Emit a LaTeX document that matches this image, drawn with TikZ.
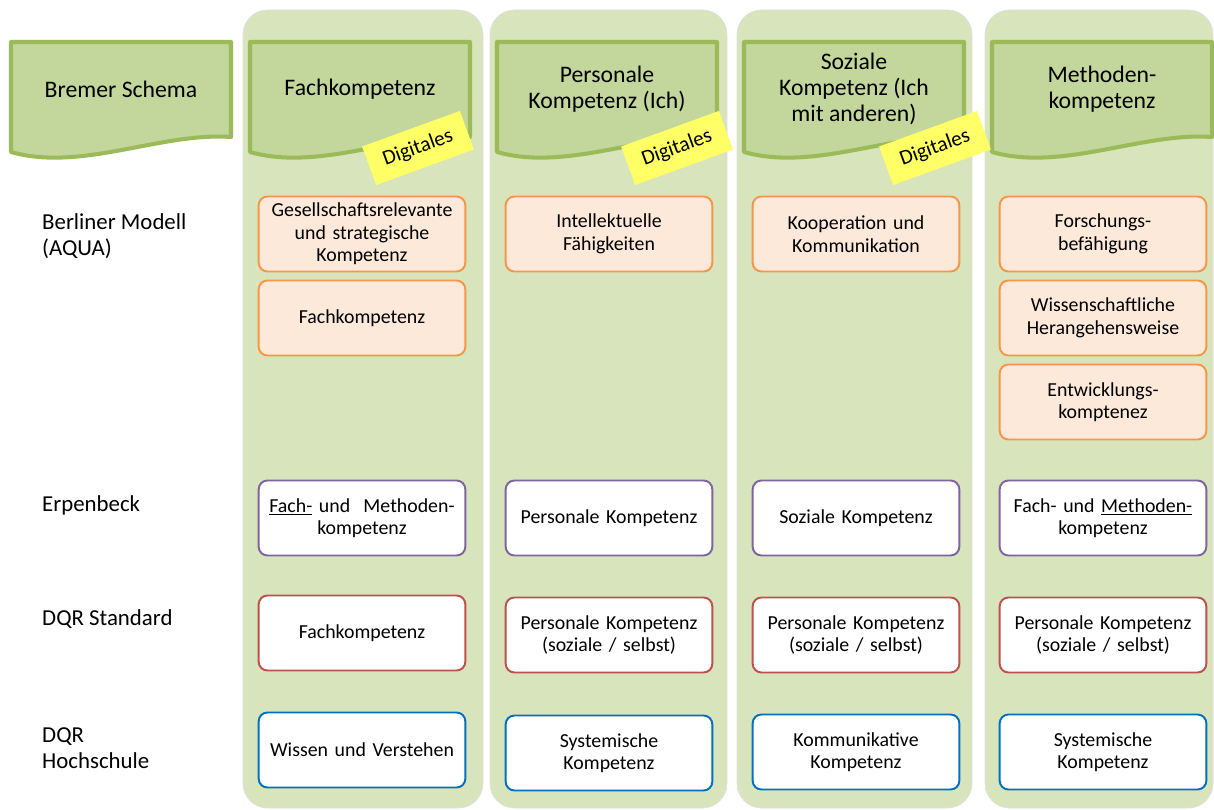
\documentclass[tikz,border=0pt]{standalone}
\usepackage{fontspec}
\setmainfont{Carlito}
\definecolor{colbg}{RGB}{216,228,188}
\definecolor{headfill}{RGB}{195,214,155}
\definecolor{headline}{RGB}{155,187,89}
\definecolor{aquafill}{RGB}{253,233,217}
\definecolor{aqualine}{RGB}{247,150,70}
\definecolor{erpline}{RGB}{128,100,162}
\definecolor{dqrline}{RGB}{192,80,77}
\definecolor{hsline}{RGB}{0,112,192}
\definecolor{digiyellow}{RGB}{255,255,102}
\begin{document}
\begin{tikzpicture}[x=0.02cm,y=-0.02cm]
\tikzset{col/.style={fill=colbg,draw=black!12,rounded corners=14pt},
head/.style={fill=headfill,draw=headline,line width=2.3pt,line join=round},
htext/.style={font=\fontsize{13.5}{14.8}\selectfont,align=center,inner sep=1pt},
rowlab/.style={anchor=west,align=left,font=\fontsize{13}{14.8}\selectfont},
box/.style={rounded corners=5pt,line width=1.1pt,fill=white,minimum height=1.5cm,
  align=center,text width=3.9cm,font=\fontsize{11.3}{12.8}\selectfont},
aqua/.style={box,draw=aqualine,fill=aquafill},
erp/.style={box,draw=erpline},dqr/.style={box,draw=dqrline},hs/.style={box,draw=hsline},
digi/.style={fill=digiyellow,minimum width=2.08cm,minimum height=0.82cm,rotate=20,
  font=\fontsize{12}{14}\selectfont}}
\def\hdr#1#2#3{\draw[head] (#1,42) -- (#1+220,42) -- (#1+220,137)
  .. controls (#1+150,132) and (#1+70,172) .. (#1,152) -- cycle;
  \node[htext] (#2) at (#1+110,89) {#3};}
\useasboundingbox (0,0) rectangle (1214,810);
% columns
\path[col] (243,10) rectangle (483,808);
\path[col] (490,10) rectangle (727,808);
\path[col] (737,10) rectangle (972,808);
\path[col] (985,10) rectangle (1213,808);
% headers
\hdr{11}{BREMER}{Bremer Schema}
\hdr{250}{FACH}{Fachkompetenz}
\hdr{497}{PERS}{Personale\\Kompetenz (Ich)}
\hdr{744}{SOZ}{Soziale\\Kompetenz (Ich\\mit anderen)}
\hdr{992}{METH}{Methoden-\\kompetenz}
\node[digi] (DF) at (418,148) {Digitales};
\node[digi] (DP) at (677,148) {Digitales};
\node[digi] (DS) at (935,148) {Digitales};
% rows
\node[rowlab] (BERLIN) at (36,236) {Berliner Modell\\(AQUA)};
\node[rowlab] (ERPEN) at (36,505) {Erpenbeck};
\node[rowlab] (DQRS) at (36,619) {DQR Standard};
\node[rowlab] (DQRH) at (36,748) {DQR\\Hochschule};
% Fachkompetenz
\node[aqua] (FA1) at (362,234) {Gesellschaftsrelevante\\und strategische\\Kompetenz};
\node[aqua] (FA2) at (362,318) {Fachkompetenz};
\node[erp] (FE) at (362,518) {\underline{Fach-} und\ \ Methoden-\\kompetenz};
\node[dqr] (FD) at (362,633) {Fachkompetenz};
\node[hs] (FH) at (362,750) {Wissen und Verstehen};
% Personale Kompetenz
\node[aqua] (PA1) at (609,234) {Intellektuelle\\F\"ahigkeiten};
\node[erp] (PE) at (609,518) {Personale Kompetenz};
\node[dqr] (PD) at (609,635) {Personale Kompetenz\\(soziale / selbst)};
\node[hs] (PH) at (609,753) {Systemische\\Kompetenz};
% Soziale Kompetenz
\node[aqua] (SA1) at (856,234) {Kooperation und\\Kommunikation};
\node[erp] (SE) at (856,518) {Soziale Kompetenz};
\node[dqr] (SD) at (856,635) {Personale Kompetenz\\(soziale / selbst)};
\node[hs] (SH) at (856,752) {Kommunikative\\Kompetenz};
% Methodenkompetenz
\node[aqua] (MA1) at (1103,234) {Forschungs-\\bef\"ahigung};
\node[aqua] (MA2) at (1103,318) {Wissenschaftliche\\Herangehensweise};
\node[aqua] (MA3) at (1103,402) {Entwicklungs-\\komptenez};
\node[erp] (ME) at (1103,518) {Fach- und \underline{Methoden-}\\kompetenz};
\node[dqr] (MD) at (1103,635) {Personale Kompetenz\\(soziale / selbst)};
\node[hs] (MH) at (1103,752) {Systemische\\Kompetenz};
\end{tikzpicture}
\end{document}
